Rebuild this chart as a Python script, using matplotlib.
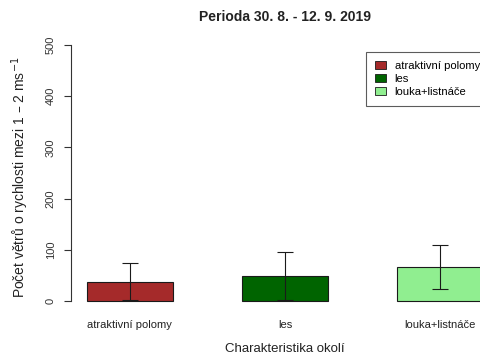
import matplotlib
matplotlib.use("Agg")
import matplotlib.pyplot as plt
from matplotlib.patches import Patch

plt.rcParams['font.family'] = ['Liberation Sans', 'DejaVu Sans']

categories = ["atraktivní polomy", "les", "louka+listnáče"]
means = [37.5, 48.5, 66.0]
sds = [36.0, 46.5, 43.0]
colors = ["#A52A2A", "#006400", "#90EE90"]
yticks = [0, 100, 200, 300, 400, 500]

W, H = 480, 356
fig = plt.figure(figsize=(W / 100, H / 100), dpi=100)

# plot region in pixels (extends past the right edge of the figure)
left_px, right_px, top_px, bottom_px = 71, 499, 34.8, 311.2
ax = fig.add_axes([left_px / W, 1 - bottom_px / H,
                   (right_px - left_px) / W, (bottom_px - top_px) / H])

x = [i * 1.8 for i in range(len(categories))]
ax.bar(x, means, width=1.0, color=colors, edgecolor="#1a1a1a", linewidth=0.8)
ax.errorbar(x, means, yerr=sds, fmt="none", ecolor="#1a1a1a",
            elinewidth=0.8, capsize=6, capthick=0.8)

ax.set_xlim(-0.684, 4.284)
ax.set_ylim(-20, 520)

for s in ["top", "right", "bottom"]:
    ax.spines[s].set_visible(False)
ax.spines["left"].set_bounds(0, 500)
ax.spines["left"].set_linewidth(0.8)
ax.spines["left"].set_color("#333333")

ax.set_yticks(yticks)
ax.set_yticklabels([str(v) for v in yticks], rotation=90, va="center",
                   fontsize=8, color="#333333")
ax.tick_params(axis="y", length=5, width=0.8, color="#333333", pad=6)

ax.set_xticks(x)
ax.set_xticklabels(categories, fontsize=8, color="#222222")
ax.tick_params(axis="x", length=0, pad=6)

fig.text(285 / W, 1 - 17 / H, "Perioda 30. 8. - 12. 9. 2019",
         ha="center", va="center", fontsize=10, fontweight="bold", color="#222222")
fig.text(285 / W, 1 - 349 / H, "Charakteristika okolí",
         ha="center", va="center", fontsize=9.5, color="#222222")
fig.text(20 / W, 1 - 177 / H, "Počet větrů o rychlosti mezi 1 – 2 ms$^{-1}$",
         ha="center", va="center", rotation=90, fontsize=10, color="#222222")

handles = [Patch(facecolor=c, edgecolor="#1a1a1a", linewidth=0.6) for c in colors]
leg = fig.legend(handles, categories, loc="upper left",
                 bbox_to_anchor=(366 / W, 1 - 52 / H),
                 fontsize=8.1, frameon=True, fancybox=False,
                 handlelength=0.95, handleheight=0.75, handletextpad=0.8,
                 labelspacing=0.25, borderpad=0.8, borderaxespad=0)
leg.get_frame().set_edgecolor("#333333")
leg.get_frame().set_linewidth(0.8)

fig.savefig("out.png", dpi=100)
